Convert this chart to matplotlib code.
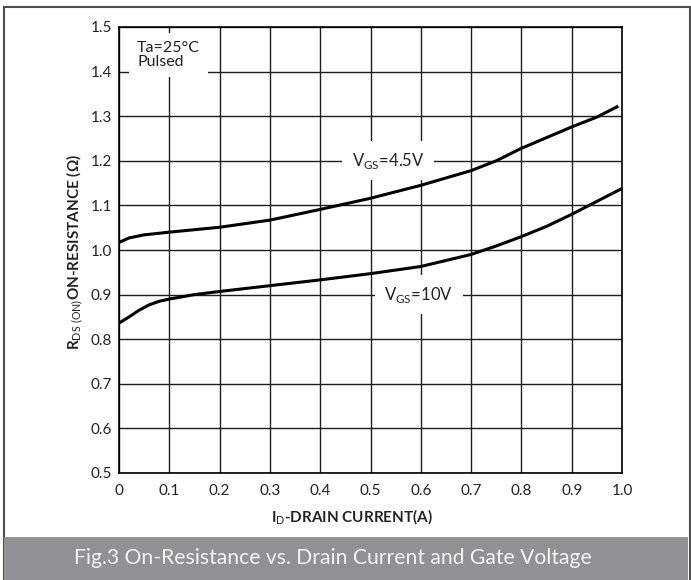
import matplotlib
matplotlib.use('Agg')
import matplotlib.pyplot as plt
from matplotlib.patches import Rectangle

plt.rcParams['font.family'] = ['Lato', 'DejaVu Sans']
plt.rcParams['mathtext.fontset'] = 'custom'
plt.rcParams['mathtext.rm'] = 'Lato'
plt.rcParams['mathtext.bf'] = 'Lato:bold'

# data
id_45 = [0, 0.02, 0.05, 0.1, 0.2, 0.3, 0.4, 0.5, 0.6, 0.7, 0.75, 0.8, 0.85, 0.9, 0.95, 0.99]
r_45 = [1.017, 1.027, 1.034, 1.040, 1.051, 1.067, 1.091, 1.116, 1.145, 1.178, 1.200, 1.228, 1.252, 1.276, 1.298, 1.321]

id_10 = [0, 0.02, 0.04, 0.06, 0.08, 0.1, 0.15, 0.2, 0.3, 0.4, 0.5, 0.6, 0.7, 0.75, 0.8, 0.85, 0.9, 0.95, 1.0]
r_10 = [0.836, 0.850, 0.865, 0.877, 0.885, 0.890, 0.900, 0.907, 0.920, 0.933, 0.947, 0.963, 0.990, 1.009, 1.030, 1.053, 1.080, 1.109, 1.138]

x_ticks = [0, 0.1, 0.2, 0.3, 0.4, 0.5, 0.6, 0.7, 0.8, 0.9, 1.0]
x_labels = ['0', '0.1', '0.2', '0.3', '0.4', '0.5', '0.6', '0.7', '0.8', '0.9', '1.0']
y_ticks = [0.5, 0.6, 0.7, 0.8, 0.9, 1.0, 1.1, 1.2, 1.3, 1.4, 1.5]
y_labels = ['0.5', '0.6', '0.7', '0.8', '0.9', '1.0', '1.1', '1.2', '1.3', '1.4', '1.5']

W, H = 691, 580
fig = plt.figure(figsize=(W / 100, H / 100), dpi=100)

# outer frame and caption bar
fig.patches.append(Rectangle((3.5 / W, -0.02), 686 / W, (H - 7) / H + 0.02,
                             transform=fig.transFigure, fill=False,
                             edgecolor='#4d4d4d', linewidth=1.5))
fig.patches.append(Rectangle((4.3 / W, 0), 684 / W, 43 / H,
                             transform=fig.transFigure, facecolor='#909195',
                             edgecolor='none'))
fig.text(333 / W, 1 - 558 / H, 'Fig.3 On-Resistance vs. Drain Current and Gate Voltage',
         ha='center', va='center', fontsize=15.2, color='#f4f4f4')

ax = fig.add_axes([119 / W, 1 - 473 / H, 503 / W, 446 / H])
ax.set_axisbelow(True)
ax.grid(True, color='#1e1e1e', linewidth=1.0)

ax.plot(id_45, r_45, color='black', linewidth=2.2, zorder=3)
ax.plot(id_10, r_10, color='black', linewidth=2.2, zorder=3)

ax.set_xlim(0, 1.0)
ax.set_ylim(0.5, 1.5)
ax.set_xticks(x_ticks)
ax.set_xticklabels(x_labels)
ax.set_yticks(y_ticks)
ax.set_yticklabels(y_labels)
ax.tick_params(length=0, labelsize=11, labelcolor='#222222')
ax.tick_params(axis='x', pad=8)
ax.tick_params(axis='y', pad=5)
for s in ax.spines.values():
    s.set_linewidth(1.2)
    s.set_color('black')

box = dict(facecolor='white', edgecolor='none', pad=6)
ax.text(0.036, 1.437, 'Ta=25°C\nPulsed', ha='left', va='center', fontsize=11.5,
        linespacing=1.0, color='#222222', bbox=box, zorder=4)
# the 1.4 gridline runs over the condition box
ax.get_ygridlines()[9].set_zorder(5)

ax.text(0.535, 1.2, r'V$_{\mathrm{GS}}$=4.5V', ha='center', va='center', fontsize=12,
        color='#222222', bbox=dict(facecolor='white', edgecolor='none', pad=7), zorder=4)
ax.text(0.596, 0.9, r'V$_{\mathrm{GS}}$=10V', ha='center', va='center', fontsize=12,
        color='#222222', bbox=dict(facecolor='white', edgecolor='none', pad=7), zorder=4)

fig.text(75 / W, 1 - 252 / H, r'$\mathbf{R}_{\mathrm{DS\ (ON)}}$ON-RESISTANCE (Ω)',
         rotation=90, ha='center', va='center', fontsize=11, fontweight='bold',
         color='#222222')
fig.text(352 / W, 1 - 517 / H, r'$\mathbf{I}_{\mathrm{D}}$-DRAIN CURRENT(A)',
         ha='center', va='center', fontsize=11, fontweight='bold', color='#222222')

fig.savefig('out.png', dpi=100)
